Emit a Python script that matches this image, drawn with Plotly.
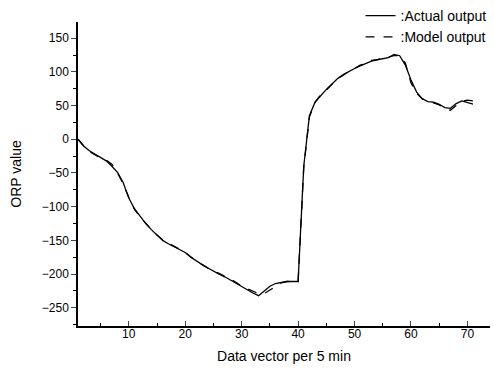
import plotly.graph_objects as go

x_vals = list(range(1, 72))
actual_output = [0, -10, -17, -22, -27, -32, -40, -49, -64, -87,
                 -103, -114, -125, -134, -142, -150, -155, -159, -163, -168,
                 -175, -181, -186, -191, -196, -200, -204, -209, -214, -219,
                 -224, -228, -232, -225, -218, -214, -212, -211, -211, -211,
                 -40, 35, 55, 65, 74, 82, 90, 96, 101, 105,
                 109, 113, 116, 118, 120, 121, 126, 124, 110, 88,
                 70, 60, 56, 55, 52, 47, 46, 53, 57, 55, 52]
model_output = [0, -10, -18, -23, -28, -31, -37, -50, -66, -86,
                -104, -115, -125, -134, -142, -149, -154, -158, -163, -168,
                -175, -181, -186, -191, -196, -199, -203, -208, -212, -218,
                -222, -226, -229, -229, -224, -218, -213, -211, -211, -211,
                -42, 33, 55, 66, 73, 82, 90, 95, 101, 105,
                110, 112, 117, 118, 121, 122, 124, 124, 113, 84,
                68, 60, 57, 54, 51, 46, 43, 50, 56, 58, 57]
x_ticks = [10, 20, 30, 40, 50, 60, 70]
y_ticks = [150, 100, 50, 0, -50, -100, -150, -200, -250]

fig = go.Figure()
fig.add_trace(go.Scatter(x=x_vals, y=actual_output, mode="lines",
                         name=":Actual output",
                         line=dict(color="black", width=1.3, dash="solid")))
fig.add_trace(go.Scatter(x=x_vals, y=model_output, mode="lines",
                         name=":Model output",
                         line=dict(color="black", width=1.3, dash="dash")))

font = "Liberation Sans, Arial, sans-serif"
fig.update_layout(
    width=494, height=372,
    margin=dict(l=78, r=4, t=22, b=46, autoexpand=False),
    paper_bgcolor="white", plot_bgcolor="white",
    font=dict(family=font, color="black", size=12),
    showlegend=True,
    legend=dict(xref="container", yref="container", x=0.995, xanchor="right",
                y=1.005, yanchor="top",
                bgcolor="rgba(0,0,0,0)", font=dict(size=14, family=font),
                tracegroupgap=0, itemwidth=30),
    xaxis=dict(range=[1, 74], tickvals=x_ticks, ticks="inside", ticklen=5,
               tickwidth=1.3, showline=True, linecolor="black", linewidth=1.5,
               showgrid=False, zeroline=False, tickfont=dict(size=12),
               ticklabelstandoff=-4, automargin=False,
               minor=dict(dtick=5, tick0=0, ticks="inside", ticklen=3, tickcolor="black"),
               title=dict(text="Data vector per 5 min", font=dict(size=14), standoff=11)),
    yaxis=dict(range=[-277, 174], tickvals=y_ticks, ticks="outside", ticklen=5,
               tickwidth=1.3, showline=True, linecolor="black", linewidth=1.5,
               showgrid=False, zeroline=False, tickfont=dict(size=12),
               automargin=False,
               minor=dict(dtick=25, tick0=0, ticks="outside", ticklen=3, tickcolor="black"),
               title=dict(text="ORP value", font=dict(size=14), standoff=17)),
)

fig.write_html("out.html")
